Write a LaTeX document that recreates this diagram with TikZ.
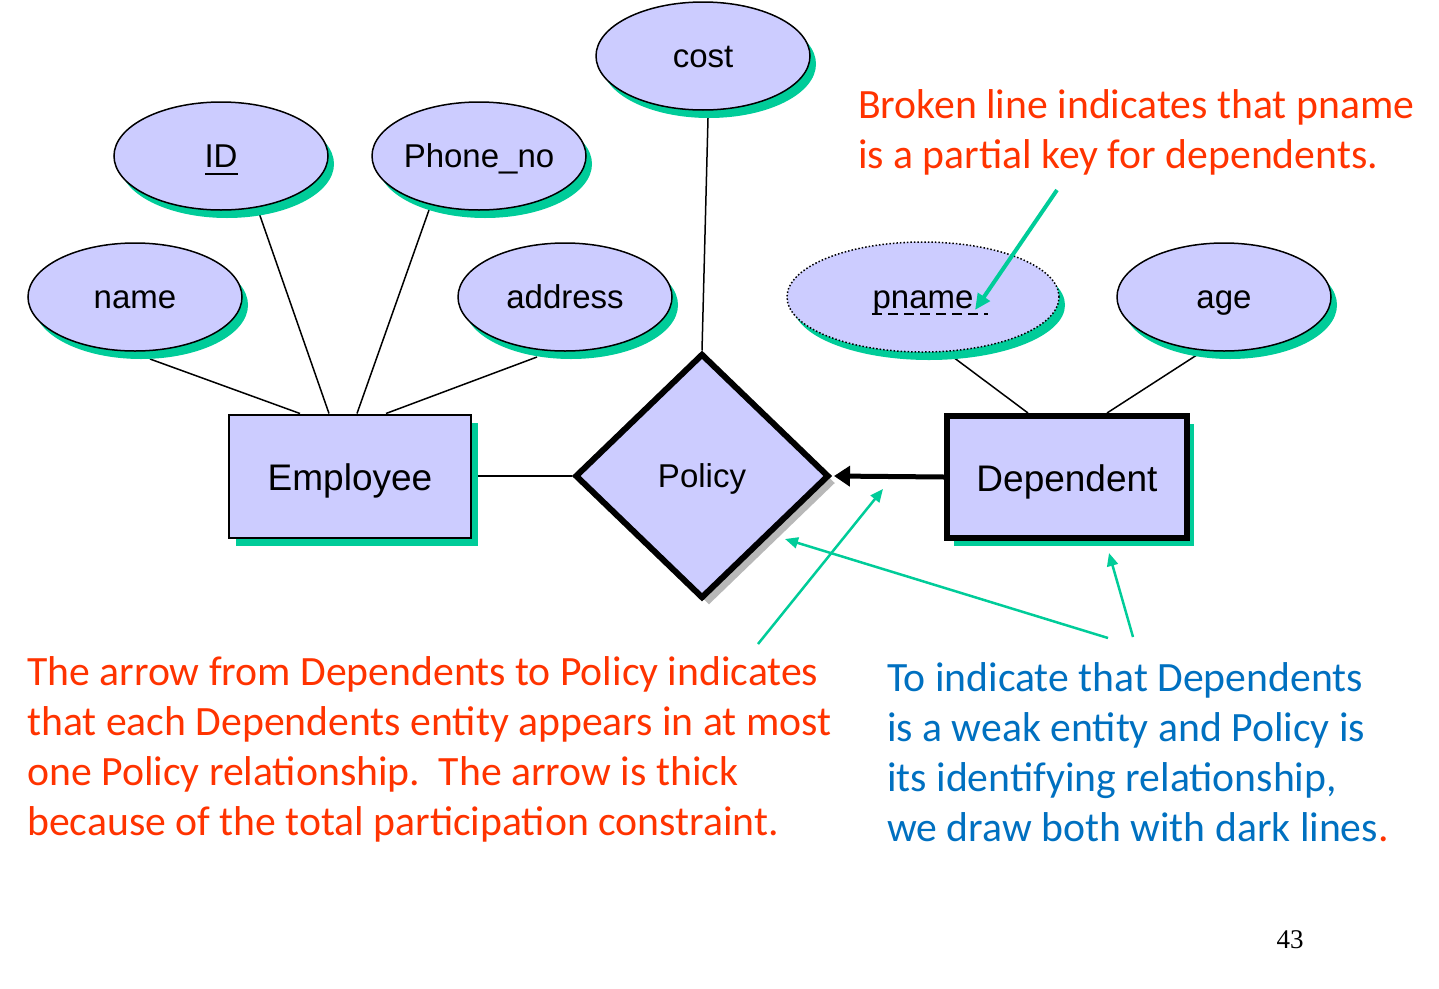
\documentclass[tikz,border=0pt]{standalone}
\usepackage{fontspec}
\setmainfont{Liberation Sans}
\newfontfamily\notefont{Carlito}
\newfontfamily\pagefont{Liberation Serif}
\usetikzlibrary{shapes.geometric,shadows,calc,arrows.meta,backgrounds}
\definecolor{attrfill}{HTML}{CCCCFF}
\definecolor{shadegreen}{HTML}{00CC99}
\definecolor{notered}{HTML}{FF3300}
\definecolor{noteblue}{HTML}{0070C0}

\begin{document}
\begin{tikzpicture}[x=1pt,y=-1pt,
  attr/.style={ellipse, draw, line width=1.5pt, fill=attrfill,
    minimum width=214pt, minimum height=108pt, inner sep=0pt,
    font=\fontsize{33}{33}\selectfont, text height=29pt, text depth=7pt,
    drop shadow={shadow xshift=6pt, shadow yshift=-8pt, fill=shadegreen, opacity=1}},
  entity/.style={rectangle, draw, line width=2pt, fill=attrfill,
    minimum width=242pt, minimum height=123pt, inner sep=0pt,
    font=\fontsize{37}{37}\selectfont, text height=35pt, text depth=7pt,
    drop shadow={shadow xshift=7pt, shadow yshift=-8pt, fill=shadegreen, opacity=1}},
  weakentity/.style={entity, line width=6pt, minimum width=240pt, minimum height=122pt},
  relation/.style={diamond, draw, line width=6pt, fill=attrfill, aspect=1,
    minimum width=254pt, minimum height=245pt, inner sep=0pt,
    font=\fontsize{33}{33}\selectfont, text height=29pt, text depth=7pt,
    drop shadow={shadow xshift=7pt, shadow yshift=-7pt, fill=black!28, opacity=1}},
  link/.style={line width=1.5pt},
  totalarrow/.style={line width=5pt, -{Triangle[length=16pt,width=20pt]}},
  notearrow/.style={shadegreen, line width=2.5pt, -{Triangle[length=13pt,width=11pt]}},
  rednote/.style={anchor=base west, align=left, inner sep=0pt, text=notered,
    font=\notefont\fontsize{41.7}{50}\selectfont},
  bluenote/.style={rednote, text=noteblue}
]
\useasboundingbox (0,0) rectangle (1439,988);

% attributes
\node[attr] (name) at (135,297) {name};
\node[attr] (id) at (221,156) {ID};
\node[attr] (phone) at (479,156) {Phone\_no};
\node[attr] (address) at (565,297) {address};
\node[attr] (cost) at (703,56) {cost};
\node[attr, dotted, minimum width=272pt, minimum height=110pt] (pname) at (923,297) {pname};
\node[attr] (age) at (1224,297) {age};

% key underlines
\draw[line width=1.5pt] ($(id)+(-16,18)$) -- ($(id)+(17,18)$);
\draw[line width=2.5pt, dash pattern=on 10pt off 6pt] ($(pname)+(-51,17)$) -- ($(pname)+(65,17)$);

% entities and relationship
\node[entity] (emp) at (350,476) {Employee};
\node[weakentity] (dep) at (1067,477) {Dependent};
\node[relation] (pol) at (702,476) {Policy};

% connectors, behind the shapes
\begin{pgfonlayer}{background}
\draw[link] ($(name)+(15,62)$) -- ($(emp.north west)+(72,0)$);
\draw[link] ($(id)+(37,54)$) -- ($(emp.north west)+(101,0)$);
\draw[link] ($(phone)+(-50,54)$) -- ($(emp.north west)+(129,0)$);
\draw[link] ($(address)+(-28,60)$) -- ($(emp.north west)+(158,0)$);
\draw[link] ($(cost)+(5,62)$) -- (pol.north);
\draw[link] (emp.east) -- (pol.west);
\draw[link] ($(pname)+(22,54)$) -- ($(dep.north west)+(84,0)$);
\draw[link] ($(age)+(-21,54)$) -- ($(dep.north west)+(163,0)$);
\end{pgfonlayer}
\draw[totalarrow] (dep.west) -- ([xshift=2pt]pol.east);

% notes (anchored at the baseline of their last line)
\node[rednote] (keynote) at (858,168) {Broken line indicates that pname\\is a partial key for dependents.};
\node[rednote] (arrownote) at (27,835) {The arrow from Dependents to Policy indicates\\that each Dependents entity appears in at most\\one Policy relationship.\ \ The arrow is thick\\because of the total participation constraint.};
\node[bluenote] (weaknote) at (887,841) {To indicate that Dependents\\is a weak entity and Policy is\\its identifying relationship,\\we draw both with dark lines\textcolor{notered}{.}};
\node[font=\pagefont\fontsize{27}{27}\selectfont, inner sep=0pt] (pageno) at (1290,940) {43};

% pointer arrows
\coordinate (k1) at (1057,190);
\coordinate (k2) at (975,310);
\coordinate (a1) at (758,644);
\coordinate (a2) at (883,489);
\coordinate (w1) at (1108,638);
\coordinate (w2) at (785,539);
\coordinate (w3) at (1133,637);
\coordinate (w4) at (1109,553);
\draw[notearrow, line width=4pt, -{Triangle[length=16pt,width=14pt]}] (k1) -- (k2);
\draw[notearrow] (a1) -- (a2);
\draw[notearrow] (w1) -- (w2);
\draw[notearrow] (w3) -- (w4);
\end{tikzpicture}
\end{document}
